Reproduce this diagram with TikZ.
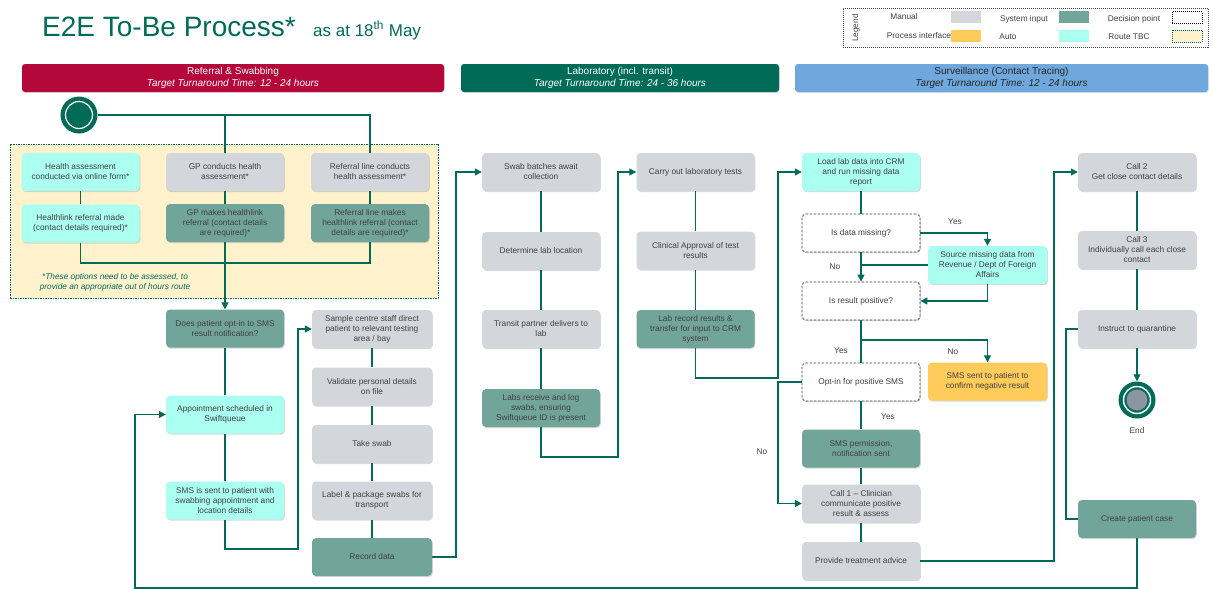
\documentclass[tikz,border=0pt]{standalone}
\usepackage{fontspec}
\setmainfont{Liberation Sans}
\usetikzlibrary{arrows.meta,shadows}
\definecolor{hdrred}{RGB}{180,8,58}
\definecolor{hdrgreen}{RGB}{0,107,87}
\definecolor{hdrblue}{RGB}{111,168,220}
\definecolor{manual}{RGB}{211,215,219}
\definecolor{sysin}{RGB}{114,165,154}
\definecolor{autoc}{RGB}{170,255,240}
\definecolor{iface}{RGB}{255,204,92}
\definecolor{tbc}{RGB}{255,242,204}
\definecolor{ln}{RGB}{0,107,87}
\definecolor{txt}{RGB}{64,64,64}
\definecolor{endgrey}{RGB}{140,150,160}
\begin{document}
\begin{tikzpicture}[x=1pt,y=-1pt,
 box/.style={rounded corners=4pt, minimum width=118pt, minimum height=38pt, align=center, font=\fontsize{8.3}{10}\selectfont, text=txt, drop shadow={opacity=0.3,shadow xshift=0.8pt,shadow yshift=-1.2pt}, inner sep=1pt},
 man/.style={box, fill=manual},
 sys/.style={box, fill=sysin},
 aut/.style={box, fill=autoc},
 ifc/.style={box, fill=iface},
 dec/.style={box, fill=white, draw=txt, dash pattern=on 2.5pt off 1.5pt, line width=0.8pt},
 conn/.style={draw=ln, line width=1.3pt},
 arr/.style={conn, -{Triangle[length=7pt,width=7pt]}},
 hdr/.style={rounded corners=3pt, minimum height=28pt, align=center, font=\fontsize{10}{11.5}\selectfont, inner sep=0pt, drop shadow={opacity=0.25,shadow xshift=0.8pt,shadow yshift=-1pt}},
 lbl/.style={font=\fontsize{8.3}{10}\selectfont, text=txt, inner sep=0pt},
 swatch/.style={minimum width=30pt, minimum height=12pt, inner sep=0pt},
]
\useasboundingbox (0,0) rectangle (1213,589);

% title
\node[anchor=base west, inner sep=0, text=ln, font=\fontsize{28}{30}\selectfont] (title) at (42,36) {E2E To-Be Process*};
\node[anchor=base west, inner sep=0, text=ln, font=\fontsize{17}{19}\selectfont] (sub) at (313,36) {as at 18\textsuperscript{th} May};

% legend
\node[draw=txt, dash pattern=on 1pt off 1pt, minimum width=365pt, minimum height=39pt, inner sep=0] (legend) at (1025.5,27.5) {};
\node[lbl, rotate=90] (legtxt) at (856,28) {Legend};
\node[lbl] (lg1) at (904,17) {Manual};
\node[swatch, fill=manual] (sw1) at (966,17) {};
\node[lbl] (lg2) at (919,36) {Process interface};
\node[swatch, fill=iface] (sw2) at (966,36) {};
\node[lbl] (lg3) at (1024,19) {System input};
\node[swatch, fill=sysin] (sw3) at (1074,17) {};
\node[lbl] (lg4) at (1008,37) {Auto};
\node[swatch, fill=autoc] (sw4) at (1074,36) {};
\node[lbl] (lg5) at (1134,19) {Decision point};
\node[swatch, draw=black, dash pattern=on 1pt off 1pt, line width=1pt] (sw5) at (1187,17.5) {};
\node[lbl] (lg6) at (1129,37) {Route TBC};
\node[swatch, fill=tbc, draw=ln, dash pattern=on 1pt off 1pt, line width=1pt] (sw6) at (1187,36) {};

% headers
\node[hdr, fill=hdrred, text=white, minimum width=422pt] (h1) at (233,78) {Referral \& Swabbing\\\textit{Target Turnaround Time: 12 - 24 hours}};
\node[hdr, fill=hdrgreen, text=white, minimum width=318pt] (h2) at (620,78) {Laboratory (incl. transit)\\\textit{Target Turnaround Time: 24 - 36 hours}};
\node[hdr, fill=hdrblue, text=black!85, minimum width=413pt] (h3) at (1001.5,78) {Surveillance (Contact Tracing)\\\textit{Target Turnaround Time: 12 - 24 hours}};

% route TBC area
\node[draw=ln, fill=tbc, dash pattern=on 1.5pt off 1pt, line width=0.7pt, minimum width=428pt, minimum height=154pt, inner sep=0] (tbcarea) at (224,221) {};
\node[font=\fontsize{8.3}{10}\selectfont\itshape, text=ln, align=center, inner sep=0] (note) at (115,282) {*These options need to be assessed, to\\provide an appropriate out of hours route};

% start
\node[circle, fill=ln, minimum size=37pt, inner sep=0] (start) at (79,115) {};
\draw[white, line width=1.2pt] (start.center) circle[radius=13.5pt];

% referral boxes
\node[aut] (ha1) at (80.5,172) {Health assessment\\conducted via online form*};
\node[man] (ha2) at (225,172) {GP conducts health\\assessment*};
\node[man] (ha3) at (370,172) {Referral line conducts\\health assessment*};
\node[aut] (hr1) at (80.5,223.5) {Healthlink referral made\\(contact details required)*};
\node[sys] (hr2) at (225,223) {GP makes healthlink\\referral (contact details\\are required)*};
\node[sys] (hr3) at (370,223) {Referral line makes\\healthlink referral (contact\\details are required)*};

\node[sys] (optin) at (225,328.5) {Does patient opt-in to SMS\\result notification?};
\node[aut] (appt) at (225,414.5) {Appointment scheduled in\\Swiftqueue};
\node[aut] (smsapp) at (225,500.5) {SMS is sent to patient with\\swabbing appointment and\\location details};

\node[man, minimum width=120pt] (sc1) at (372,329) {Sample centre staff direct\\patient to relevant testing\\area / bay};
\node[man, minimum width=120pt] (sc2) at (372,386.5) {Validate personal details\\on file};
\node[man, minimum width=120pt] (sc3) at (372,444) {Take swab};
\node[man, minimum width=120pt] (sc4) at (372,500.5) {Label \& package swabs for\\transport};
\node[sys, minimum width=120pt] (sc5) at (372,557) {Record data};

% lab
\node[man] (l1) at (541,172) {Swab batches await\\collection};
\node[man] (l2) at (541,251) {Determine lab location};
\node[man] (l3) at (541,329) {Transit partner delivers to\\lab};
\node[sys] (l4) at (541,408) {Labs receive and log\\swabs, ensuring\\Swiftqueue ID is present};
\node[man] (l5) at (695.5,172) {Carry out laboratory tests};
\node[man] (l6) at (695.5,250.5) {Clinical Approval of test\\results};
\node[sys] (l7) at (695.5,329) {Lab record results \&\\transfer for input to CRM\\system};

% surveillance
\node[aut] (s1) at (861,172) {Load lab data into CRM\\and run missing data\\report};
\node[dec] (d1) at (861,233) {Is data missing?};
\node[aut, minimum width=119pt] (src) at (987.5,265) {Source missing data from\\Revenue / Dept of Foreign\\Affairs};
\node[dec] (d2) at (861,301) {Is result positive?};
\node[ifc, minimum width=119pt] (neg) at (987.5,381.5) {SMS sent to patient to\\confirm negative result};
\node[dec] (d3) at (861,382) {Opt-in for positive SMS};
\node[sys] (smsperm) at (861,448.5) {SMS permission,\\notification sent};
\node[man] (call1) at (861,503.5) {Call 1 -- Clinician\\communicate positive\\result \& assess};
\node[man] (advice) at (861,561) {Provide treatment advice};

\node[man] (c2) at (1137,172) {Call 2\\Get close contact details};
\node[man] (c3) at (1137,250) {Call 3\\Individually call each close\\contact};
\node[man] (q) at (1137,329) {Instruct to quarantine};
\node[sys] (cpc) at (1137,519) {Create patient case};

\node[circle, fill=ln, minimum size=37pt, inner sep=0] (endc) at (1137,400) {};
\draw[white, line width=1.5pt] (endc.center) circle[radius=13.5pt];
\fill[endgrey] (endc.center) circle[radius=10.5pt];
\node[lbl] (endl) at (1137,431) {End};

% labels
\node[lbl] (y1) at (955,222) {Yes};
\node[lbl] (n1) at (835,267) {No};
\node[lbl] (y2) at (841,351) {Yes};
\node[lbl] (n2) at (953,352) {No};
\node[lbl] (y3) at (888,417) {Yes};
\node[lbl] (n3) at (762,452) {No};

% coordinates
\coordinate (j1) at (225,115);
\coordinate (j2) at (370,115);
\coordinate (m1) at (80.5,263);
\coordinate (m3) at (370,263);
\coordinate (r1) at (298,549);
\coordinate (r2) at (456,557);
\coordinate (r3) at (618,457);
\coordinate (r4) at (778,378);
\coordinate (b1) at (861,340);
\coordinate (r5) at (778,503.5);
\coordinate (r6) at (1054,560);
\coordinate (r7) at (1066,519);
\coordinate (r8) at (135,588);

% connectors
\draw[conn] (start) -- (j2) -- (ha3.north);
\draw[conn] (j1) -- (ha2.north);
\draw[conn] (ha1.south) -- (hr1.north);
\draw[conn] (ha2.south) -- (hr2.north);
\draw[conn] (ha3.south) -- (hr3.north);
\draw[conn] (hr1.south) -- (m1) -- (m3) -- (hr3.south);
\draw[arr] (hr2.south) -- (optin.north);
\draw[conn] (optin.south) -- (appt.north);
\draw[conn] (appt.south) -- (smsapp.north);
\draw[arr] (smsapp.south) |- (r1) |- (sc1.west);
\draw[conn] (sc1.south) -- (sc2.north);
\draw[conn] (sc2.south) -- (sc3.north);
\draw[conn] (sc3.south) -- (sc4.north);
\draw[conn] (sc4.south) -- (sc5.north);
\draw[arr] (sc5.east) -- (r2) |- (l1.west);
\draw[conn] (l1.south) -- (l2.north);
\draw[conn] (l2.south) -- (l3.north);
\draw[conn] (l3.south) -- (l4.north);
\draw[arr] (l4.south) |- (r3) |- (l5.west);
\draw[conn] (l5.south) -- (l6.north);
\draw[conn] (l6.south) -- (l7.north);
\draw[arr] (l7.south) |- (r4) |- (s1.west);
\draw[conn] (s1.south) -- (d1.north);
\draw[arr] (d1.east) -| (src.north);
\draw[conn] (src.west) -- (src.west -| d1.south);
\draw[arr] (d1.south) -- (d2.north);
\draw[arr] (src.south) |- (d2.east);
\draw[conn] (d2.south) -- (d3.north);
\draw[arr] (b1) -| (neg.north);
\draw[arr] (d3.west) -| (r5) -- (call1.west);
\draw[conn] (d3.south) -- (smsperm.north);
\draw[conn] (smsperm.south) -- (call1.north);
\draw[conn] (call1.south) -- (advice.north);
\draw[arr] (advice.east) -| (r6) |- (c2.west);
\draw[conn] (c2.south) -- (c3.north);
\draw[conn] (c3.south) -- (q.north);
\draw[arr] (q.south) -- (endc.north);
\draw[conn] (q.west) -| (r7) -- (cpc.west);
\draw[arr] (cpc.south) |- (r8) |- (appt.west);
\end{tikzpicture}
\end{document}
